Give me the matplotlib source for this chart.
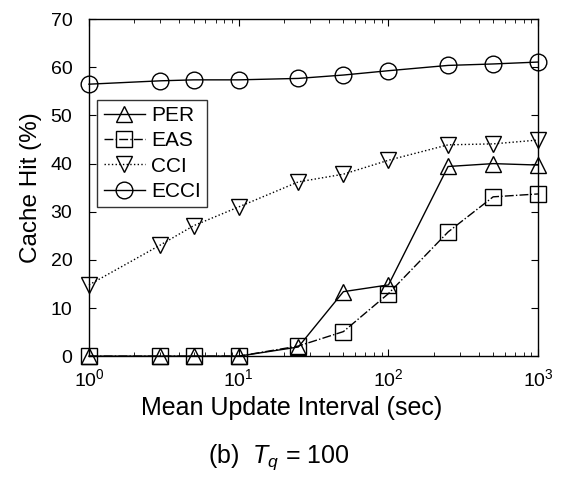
import matplotlib.pyplot as plt

plt.rcParams['font.family'] = ['Liberation Sans', 'DejaVu Sans']
plt.rcParams['mathtext.fontset'] = 'custom'
plt.rcParams['mathtext.rm'] = 'Liberation Sans'
plt.rcParams['mathtext.it'] = 'Liberation Sans:italic'

# Mean update interval (sec)
intervals = [1, 3, 5, 10, 25, 50, 100, 250, 500, 1000]

# Cache hit (%) per scheme
per = [0, 0, 0, 0, 1.9, 13.4, 14.8, 39.4, 40.0, 39.7]
eas = [0, 0, 0, 0, 2.1, 5.1, 13.0, 25.8, 33.1, 33.7]
cci = [14.8, 23.1, 27.1, 31.0, 36.2, 37.8, 40.7, 43.9, 44.1, 44.9]
ecci = [56.5, 57.2, 57.4, 57.4, 57.7, 58.4, 59.3, 60.4, 60.7, 61.1]

fig = plt.figure(figsize=(5.63, 4.8), dpi=100)
ax = fig.add_axes([0.158, 0.258, 0.798, 0.702])

ms = 12
common = dict(color='black', lw=1.0, markersize=ms, markerfacecolor='none',
              markeredgecolor='black', markeredgewidth=1.0, clip_on=False)
ax.plot(intervals, per, '-', marker='^', label='PER', **common)
ax.plot(intervals, eas, '-.', marker='s', label='EAS', **common)
ax.plot(intervals, cci, ':', marker='v', label='CCI', **common)
ax.plot(intervals, ecci, '-', marker='o', label='ECCI', **common)

ax.set_xscale('log')
ax.set_xlim(1, 1000)
ax.set_ylim(0, 70)
ax.set_yticks(range(0, 71, 10))
ax.tick_params(which='both', direction='in', top=True, right=True, labelsize=14)
ax.tick_params(axis='y', pad=12)
ax.tick_params(axis='x', pad=9)
ax.tick_params(which='major', length=5)
ax.tick_params(which='minor', length=3)
for s in ax.spines.values():
    s.set_linewidth(1.0)

ax.set_ylabel('Cache Hit (%)', fontsize=17.5, labelpad=6)
ax.set_xlabel('Mean Update Interval (sec)', fontsize=18, labelpad=4, x=0.45)
fig.text(0.495, 0.035, r'(b)  $T_q$ = 100', fontsize=18, ha='center')

leg = ax.legend(loc='upper left', bbox_to_anchor=(0.0, 0.785), fontsize=15,
                frameon=True, fancybox=False, borderpad=0.3, labelspacing=0.3,
                handlelength=2.0, handletextpad=0.3, borderaxespad=0.4)
leg.get_frame().set_edgecolor('black')
leg.get_frame().set_linewidth(1.0)

fig.savefig('out.png', dpi=100)
